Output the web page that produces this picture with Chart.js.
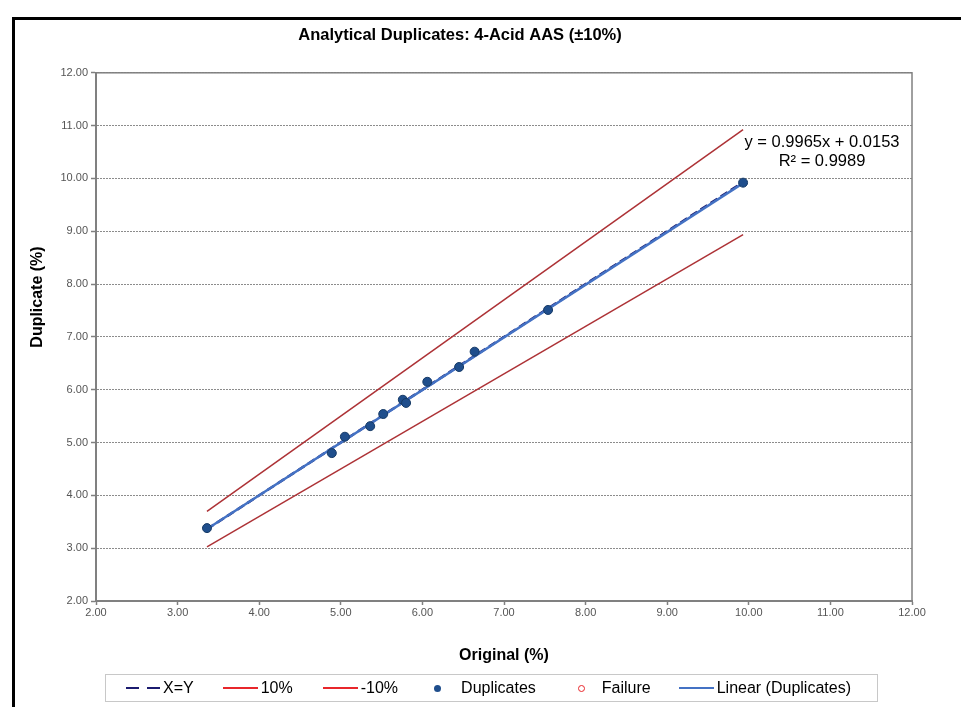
<!DOCTYPE html>
<html>
<head>
<meta charset="utf-8">
<script src="https://cdn.jsdelivr.net/npm/chart.js@4.4.1/dist/chart.umd.min.js"></script>
<style>
  body { margin: 0; background: #fff; font-family: "Liberation Sans", Arial, sans-serif; }
  #wrap { position: relative; width: 961px; height: 707px; overflow: hidden; }
  #frame { position: absolute; left: 12px; top: 17px; width: 1000px; height: 760px;
    border-left: 3px solid #000; border-top: 3px solid #000; box-sizing: border-box; }
  #chart { position: absolute; left: 0; top: 0; }
  #legend { position: absolute; left: 105px; top: 674px; width: 773px; height: 28px;
    border: 1px solid #c8c8c8; box-sizing: border-box; display: flex; align-items: center;
    padding-left: 20px; font-size: 16px; color: #000; white-space: nowrap; }
  .item { display: flex; align-items: center; flex-shrink: 0; }
  .sym { display: inline-block; margin-right: 3px; flex-shrink: 0; }
</style>
</head>
<body>
<div id="wrap">
  <div id="frame"></div>
  <canvas id="chart" width="961" height="707"></canvas>
  <div id="legend"></div>
</div>
<script>
// original vs duplicate assays (%)
const original  = [3.36, 4.89, 5.05, 5.36, 5.52, 5.76, 5.80, 6.06, 6.45, 6.64, 7.54, 9.93]
const duplicate = [3.38, 4.80, 5.11, 5.31, 5.54, 5.81, 5.75, 6.15, 6.43, 6.72, 7.51, 9.92]
const failures = []
const tolerance = 0.10
const slope = 0.9965
const intercept = 0.0153
const rSquared = 0.9989
const axisMin = 2
const axisMax = 12

const xMin = Math.min(...original)
const xMax = Math.max(...original)
const ends = [xMin, xMax]

const points = original.map((x, i) => ({ x: x, y: duplicate[i] }))
const line = (f) => ends.map((x) => ({ x: x, y: f(x) }))

const navy = '#1b1b6f'
const tolRed = '#ad3236'
const dotBlue = '#1f4e8c'
const trendBlue = '#4472c4'

const datasets = [
	{ label: 'X=Y', data: line((x) => x), showLine: true, borderColor: navy, borderWidth: 2.5,
		borderDash: [8, 4], pointRadius: 0, order: 2, sym: 'dash', legendColor: navy },
	{ label: '10%', data: line((x) => x * (1 + tolerance)), showLine: true, borderColor: tolRed,
		borderWidth: 1.5, pointRadius: 0, order: 3, sym: 'line', legendColor: '#e8262b' },
	{ label: '-10%', data: line((x) => x * (1 - tolerance)), showLine: true, borderColor: tolRed,
		borderWidth: 1.5, pointRadius: 0, order: 3, sym: 'line', legendColor: '#e8262b' },
	{ label: 'Duplicates', data: points, showLine: false, pointRadius: 4.5, backgroundColor: dotBlue,
		borderColor: '#163a66', borderWidth: 1, order: 0, sym: 'dot', legendColor: dotBlue },
	{ label: 'Failure', data: failures, showLine: false, pointRadius: 3, backgroundColor: '#fff',
		borderColor: '#e8262b', order: 0, sym: 'ring', legendColor: '#e8262b' },
	{ label: 'Linear (Duplicates)', data: line((x) => slope * x + intercept), showLine: true,
		borderColor: trendBlue, borderWidth: 2.5, pointRadius: 0, order: 1, sym: 'line', legendColor: trendBlue },
]

const extras = {
	id: 'extras',
	beforeDatasetsDraw(chart) {
		const { ctx, chartArea: a } = chart
		ctx.save()
		ctx.strokeStyle = '#808080'
		ctx.lineWidth = 1.5
		ctx.strokeRect(a.left, a.top, a.right - a.left, a.bottom - a.top)
		ctx.restore()
	},
	afterDraw(chart) {
		const { ctx } = chart
		ctx.save()
		ctx.fillStyle = '#000'
		ctx.font = '16.5px "Liberation Sans", Arial'
		ctx.textAlign = 'center'
		ctx.textBaseline = 'middle'
		ctx.fillText('y = ' + slope.toFixed(4) + 'x + ' + intercept.toFixed(4), 822, 142)
		ctx.fillText('R² = ' + rSquared.toFixed(4), 822, 161)
		// y axis title
		ctx.font = 'bold 16px "Liberation Sans", Arial'
		ctx.translate(38, 297)
		ctx.rotate(-Math.PI / 2)
		ctx.fillText('Duplicate (%)', 0, 0)
		ctx.restore()
	},
}

const tickFont = { family: '"Liberation Sans", Arial', size: 11 }

new Chart(document.getElementById('chart'), {
	type: 'scatter',
	data: { datasets: datasets },
	plugins: [extras],
	options: {
		responsive: false,
		animation: false,
		layout: { padding: { left: 8, right: 49, top: 22, bottom: 40 } },
		plugins: {
			legend: { display: false },
			tooltip: { enabled: false },
			title: {
				display: true,
				text: 'Analytical Duplicates: 4-Acid AAS (±10%)',
				color: '#000',
				font: { family: '"Liberation Sans", Arial', size: 16.5, weight: 'bold' },
				padding: { top: 4, bottom: 27 },
			},
		},
		scales: {
			x: {
				type: 'linear',
				min: axisMin,
				max: axisMax,
				ticks: { stepSize: 1, color: '#555', font: tickFont, padding: 1,
					callback: (v) => v.toFixed(2) },
				grid: { drawOnChartArea: false, tickLength: 4, tickColor: '#808080', tickWidth: 1.5 },
				border: { color: '#808080', width: 2 },
				title: { display: true, text: 'Original (%)', color: '#000',
					font: { family: '"Liberation Sans", Arial', size: 16, weight: 'bold' },
					padding: { top: 0, bottom: 2 } },
				afterFit: (s) => { s.height = 66 },
			},
			y: {
				type: 'linear',
				min: axisMin,
				max: axisMax,
				ticks: { stepSize: 1, color: '#555', font: tickFont, padding: 3,
					callback: (v) => v.toFixed(2) },
				grid: { color: '#8c8c8c', lineWidth: 1, tickLength: 5, tickColor: '#808080', tickWidth: 1.5 },
				border: { color: '#808080', width: 2, dash: [2, 1] },
				afterFit: (s) => { s.width = 88 },
			},
		},
	},
})

// legend, spaced like the Excel one
const gaps = [29, 30, 30, 30, 28, 0]
const legend = document.getElementById('legend')
datasets.forEach((d, i) => {
	let sym = ''
	if (d.sym === 'dash') {
		sym = `<span class="sym" style="width:34px;height:2.5px;background:repeating-linear-gradient(90deg, ${d.legendColor} 0 13px, transparent 13px 21px)"></span>`
	} else if (d.sym === 'line') {
		sym = `<span class="sym" style="width:35px;height:2px;background:${d.legendColor}"></span>`
	} else if (d.sym === 'dot') {
		sym = `<span class="sym" style="width:7px;height:7px;border-radius:50%;background:${d.legendColor};margin:0 20px 0 6px"></span>`
	} else {
		sym = `<span class="sym" style="width:5px;height:5px;border-radius:50%;border:1.5px solid ${d.legendColor};margin:0 17px 0 12px"></span>`
	}
	legend.innerHTML += `<div class="item" style="margin-right:${gaps[i]}px">${sym}<span>${d.label}</span></div>`
})
</script>
</body>
</html>
